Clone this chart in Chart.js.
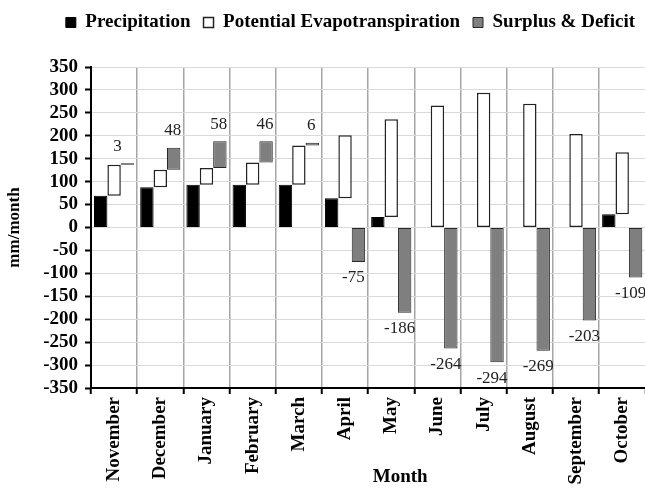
<!DOCTYPE html>
<html><head><meta charset="utf-8">
<script src="https://cdn.jsdelivr.net/npm/chart.js@4"></script>
<style>
html,body{margin:0;padding:0;overflow:hidden;background:#fff;width:645px;height:488px}
#wrap{width:648px;height:488px;position:relative}
</style></head>
<body><div id="wrap"><canvas id="c" width="648" height="488" style="width:648px;height:488px"></canvas></div>
<script>
const months = ['November','December','January','February','March','April','May','June','July','August','September','October'];
const precipitation = [69, 88, 93, 93, 93, 64, 23, 1, 1, 1, 1, 29];
const evapotranspirationLevel = [137, 126, 130, 142, 179, 201, 236, 266, 294, 270, 204, 164];
const surplusDeficit = [3, 48, 58, 46, 6, -75, -186, -264, -294, -269, -203, -109];
const yMin = -350, yMax = 350, yStep = 50;

const precipBars = precipitation.map(v => [0, v]);
const petBars = months.map((m, i) => [precipitation[i], evapotranspirationLevel[i]]);
const sdBars = surplusDeficit.map((v, i) => v >= 0 ? [evapotranspirationLevel[i], evapotranspirationLevel[i] + v] : [0, v]);

const SERIF = '"Liberation Serif", "Times New Roman", Times, serif';
Chart.defaults.font.family = SERIF;
Chart.defaults.color = '#000';

const legendSpacer = {
  id: 'legendSpacer',
  beforeLayout(chart) {
    const lg = chart.legend;
    if (lg && !lg._spaced) {
      const orig = lg.fit;
      lg.fit = function () { orig.call(this); this.height += 25; };
      lg._spaced = true;
    }
  }
};

const valueLabels = {
  id: 'valueLabels',
  afterDatasetsDraw(chart) {
    const meta = chart.getDatasetMeta(2);
    const ctx = chart.ctx;
    ctx.save();
    ctx.font = '17px ' + SERIF;
    ctx.fillStyle = '#222';
    ctx.textAlign = 'center';
    ctx.textBaseline = 'middle';
    meta.data.forEach((bar, i) => {
      const v = surplusDeficit[i];
      const top = Math.min(bar.y, bar.base), bottom = Math.max(bar.y, bar.base);
      if (v >= 0) ctx.fillText(String(v), bar.x - (i === 0 ? 10 : 1), top - 17);
      else ctx.fillText(String(v), bar.x - 5, bottom + 16);
    });
    ctx.restore();
  }
};

const xTitle = {
  id: 'xTitle',
  afterDraw(chart) {
    const ctx = chart.ctx, a = chart.chartArea;
    ctx.save();
    ctx.font = 'bold 19px ' + SERIF;
    ctx.fillStyle = '#000';
    ctx.textAlign = 'center';
    ctx.textBaseline = 'middle';
    ctx.fillText('Month', (a.left + a.right) / 2 + 32, 477);
    ctx.restore();
  }
};

new Chart(document.getElementById('c'), {
  type: 'bar',
  data: {
    labels: months,
    datasets: [
      { label: 'Precipitation', data: precipBars, backgroundColor: '#000', borderColor: '#000', borderWidth: 1, borderSkipped: false },
      { label: 'Potential Evapotranspiration', data: petBars, backgroundColor: '#fff', borderColor: '#222', borderWidth: 1.5, borderSkipped: false },
      { label: 'Surplus & Deficit', data: sdBars, backgroundColor: '#7f7f7f', borderColor: '#262626', borderWidth: 1, borderSkipped: false }
    ]
  },
  options: {
    responsive: false,
    animation: false,
    devicePixelRatio: 1,
    categoryPercentage: 0.87,
    barPercentage: 1.0,
    layout: { padding: { top: 0, right: 0, left: 0, bottom: 0 } },
    plugins: {
      legend: {
        position: 'top', align: 'end',
        labels: { boxWidth: 10, boxHeight: 10, padding: 13, color: '#000', font: { size: 19, weight: 'bold', family: SERIF } }
      },
      tooltip: { enabled: false }
    },
    scales: {
      x: {
        ticks: { color: '#000', autoSkip: false, minRotation: 90, maxRotation: 90, padding: 3, font: { size: 19, weight: 'bold', family: SERIF } },
        grid: { color: '#a6a6a6', lineWidth: 1.5, tickColor: '#000', tickLength: 6, tickWidth: 2, offset: true },
        border: { color: '#000', width: 2 },
        afterFit(s) { s.height = 100; }
      },
      y: {
        min: yMin, max: yMax,
        ticks: { stepSize: yStep, autoSkip: false, color: '#000', padding: 7, font: { size: 19, weight: 'bold', family: SERIF } },
        grid: { color: '#d9d9d9', lineWidth: 1, tickColor: '#000', tickLength: 6, tickWidth: 2 },
        border: { color: '#000', width: 2 },
        title: { display: true, text: 'mm/month', color: '#000', padding: { top: 4, bottom: 0 }, font: { size: 17, weight: 'bold', family: SERIF } },
        afterFit(s) { s.width = 91; }
      }
    }
  },
  plugins: [legendSpacer, valueLabels, xTitle]
});
</script></body></html>
